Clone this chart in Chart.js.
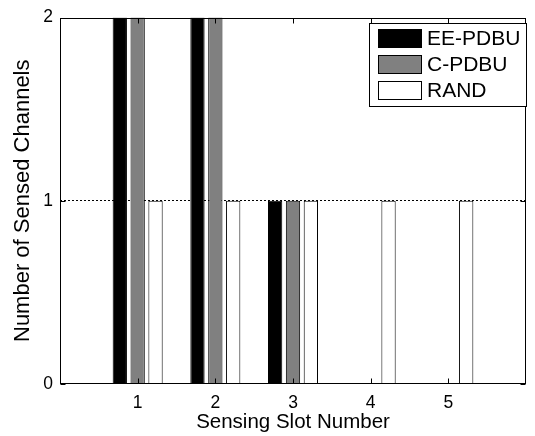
<!DOCTYPE html>
<html>
<head>
<meta charset="utf-8">
<script src="https://cdn.jsdelivr.net/npm/chart.js@4/dist/chart.umd.min.js"></script>
<style>
  html, body { margin: 0; padding: 0; background: #fff; }
  #wrap { width: 535px; height: 436px; }
</style>
</head>
<body>
<div id="wrap"><canvas id="grafico" width="535" height="436"></canvas></div>
<script>
// datos
const slots = [1, 2, 3, 4, 5];
const eePdbu = [2, 2, 1, 0, 0];
const cPdbu = [2, 2, 1, 0, 0];
const rand = [1, 1, 1, 1, 1];
const yTicks = [0, 1, 2];

const fuente = "'Liberation Sans', Arial, Helvetica, sans-serif";
Chart.defaults.color = '#000';
Chart.defaults.font.family = fuente;

// marco, marcas de ejes hacia adentro y leyenda estilo MATLAB
const marcoMatlab = {
  id: 'marcoMatlab',
  afterDatasetsDraw(chart) {
    const ctx = chart.ctx;
    const a = chart.chartArea;
    const xs = chart.scales.x;
    const ys = chart.scales.y;
    const l = Math.round(a.left) + 0.5;
    const r = Math.round(a.right) - 0.5;
    const t = Math.round(a.top) + 0.5;
    const b = Math.round(a.bottom) - 0.5;

    ctx.save();
    ctx.strokeStyle = '#000';
    ctx.lineWidth = 1;
    ctx.beginPath();
    slots.forEach(v => {
      const px = Math.round(xs.getPixelForValue(v)) + 0.5;
      ctx.moveTo(px, b); ctx.lineTo(px, b - 5);
      ctx.moveTo(px, t); ctx.lineTo(px, t + 5);
    });
    yTicks.forEach(v => {
      const py = Math.round(ys.getPixelForValue(v)) + 0.5;
      ctx.moveTo(l, py); ctx.lineTo(l + 5, py);
      ctx.moveTo(r, py); ctx.lineTo(r - 5, py);
    });
    ctx.stroke();
    ctx.strokeRect(l, t, r - l, b - t);

    // leyenda
    const bx = 369.5, by = 23.5, bw = 157, bh = 83;
    ctx.fillStyle = '#fff';
    ctx.fillRect(bx, by, bw, bh);
    ctx.strokeRect(bx, by, bw, bh);
    ctx.font = '21px ' + fuente;
    ctx.textBaseline = 'middle';
    ctx.textAlign = 'left';
    chart.data.datasets.forEach((ds, i) => {
      const cy = 38 + i * 26;
      ctx.fillStyle = ds.backgroundColor;
      ctx.fillRect(378, Math.round(cy - 9.5), 44, 19);
      ctx.strokeStyle = '#000';
      ctx.strokeRect(378.5, Math.round(cy - 9.5) + 0.5, 43, 18);
      ctx.fillStyle = '#000';
      ctx.fillText(ds.label, 427, cy + 1);
    });
    ctx.restore();
  }
};

new Chart(document.getElementById('grafico'), {
  type: 'bar',
  data: {
    labels: slots,
    datasets: [
      { label: 'EE-PDBU', data: eePdbu, backgroundColor: '#000000', borderColor: '#000', borderWidth: 1 },
      { label: 'C-PDBU', data: cPdbu, backgroundColor: '#808080', borderColor: '#000', borderWidth: 1 },
      { label: 'RAND', data: rand, backgroundColor: '#ffffff', borderColor: '#000', borderWidth: 1 }
    ]
  },
  options: {
    responsive: false,
    animation: false,
    events: [],
    categoryPercentage: 0.69,
    barPercentage: 0.8,
    layout: { padding: { top: 15, right: 4, left: 0, bottom: 0 } },
    plugins: {
      legend: { display: false },
      tooltip: { enabled: false }
    },
    scales: {
      x: {
        type: 'linear',
        min: 0,
        max: 6,
        offset: false,
        afterFit(scale) { scale.height = 52; },
        ticks: {
          stepSize: 1,
          autoSkip: false,
          padding: 9,
          maxRotation: 0,
          font: { size: 17.5 },
          callback: v => (v >= 1 && v <= 5 ? String(v) : '')
        },
        grid: { display: false, drawTicks: false, offset: false },
        border: { display: false },
        title: {
          display: true,
          text: 'Sensing Slot Number',
          font: { size: 20.5 },
          padding: { top: 0, bottom: 1 }
        }
      },
      y: {
        min: 0,
        max: 2,
        afterFit(scale) { scale.width = 60; },
        ticks: {
          stepSize: 1,
          padding: 7,
          font: { size: 17.5 }
        },
        grid: {
          drawTicks: false,
          color: ctx => (ctx.tick && ctx.tick.value === 1 ? '#000' : 'rgba(0,0,0,0)'),
          lineWidth: 1
        },
        border: { display: false, dash: [2, 2] },
        title: {
          display: true,
          text: 'Number of Sensed Channels',
          font: { size: 22 },
          padding: { top: 10, bottom: 0 }
        }
      }
    }
  },
  plugins: [marcoMatlab]
});
</script>
</body>
</html>
